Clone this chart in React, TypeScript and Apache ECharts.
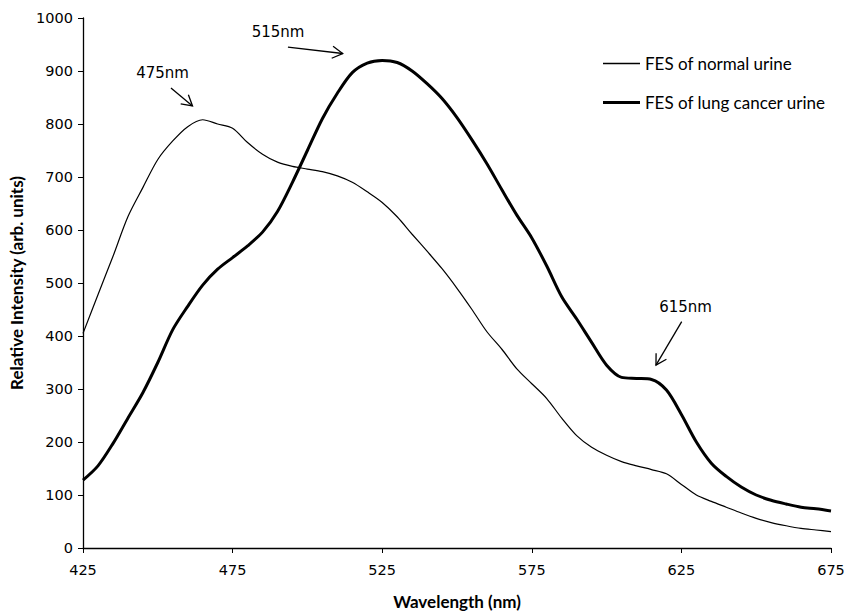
import React, { useEffect, useRef } from "react";
import * as echarts from "echarts";

const wavelengths = [
  425, 430, 435, 440, 445, 450, 455, 460, 465, 470, 475, 480, 485, 490, 495, 500,
  505, 510, 515, 520, 525, 530, 535, 540, 545, 550, 555, 560, 565, 570, 575, 580,
  585, 590, 595, 600, 605, 610, 615, 620, 625, 630, 635, 640, 645, 650, 655, 660,
  665, 670, 675,
];

const normalUrine = [
  405, 478, 550, 625, 680, 733, 768, 795, 808, 800, 792, 765, 743, 728, 720, 715,
  710, 702, 690, 672, 652, 625, 592, 560, 527, 490, 450, 408, 375, 338, 310, 282,
  245, 212, 190, 175, 163, 155, 148, 140, 120, 100, 88, 77, 66, 56, 48, 42,
  37, 34, 31,
];

const cancerUrine = [
  128, 155, 197, 245, 293, 350, 412, 456, 496, 526, 548, 570, 596, 635, 690, 750,
  810, 858, 897, 915, 920, 916, 900, 876, 848, 812, 770, 725, 676, 628, 585, 532,
  474, 432, 388, 345, 322, 320, 318, 298, 252, 200, 160, 135, 115, 100, 90, 83,
  77, 74, 70,
];

const xTicks = [425, 475, 525, 575, 625, 675];
const seriesNames = ["FES of normal urine", "FES of lung cancer urine"];

// annotations (data coordinates)
const annoLabels = ["475nm", "515nm", "615nm"];
const annoTextX = [451.6, 490.2, 626.4];
const annoTextY = [896, 974, 455];
const arrowFromX = [454.4, 493.5, 625.1];
const arrowFromY = [868, 945, 427];
const arrowToX = [461.6, 511.8, 616.5];
const arrowToY = [834, 933, 345];

const TICK_FONT = "DejaVu Sans";
const TEXT_FONT = "Lato";

export default function App() {
  const ref = useRef<HTMLDivElement>(null);

  useEffect(() => {
    if (!ref.current) return;
    const chart = echarts.init(ref.current, undefined, { renderer: "svg" });

    const annoData = annoLabels.map((_, i) => [
      annoTextX[i], annoTextY[i], arrowFromX[i], arrowFromY[i], arrowToX[i], arrowToY[i],
    ]);

    const option: any = {
      animation: false,
      backgroundColor: "#ffffff",
      grid: { left: 83, right: 13, top: 18, bottom: 67, containLabel: false, outerBoundsMode: "none" },
      legend: {
        data: [
          { name: seriesNames[0], icon: "path://M0,0L37,0L37,1.3L0,1.3Z" },
          { name: seriesNames[1], icon: "path://M0,0L37,0L37,3L0,3Z" },
        ],
        orient: "vertical",
        left: 598,
        top: 50,
        itemWidth: 37,
        itemHeight: 14,
        itemGap: 22,
        itemStyle: { color: "#000" },
        textStyle: { fontFamily: TEXT_FONT, fontSize: 17, color: "#000", padding: [0, 0, 0, 0] },
      },
      xAxis: {
        type: "value",
        min: 425,
        max: 675,
        interval: 50,
        name: "Wavelength (nm)",
        nameLocation: "middle",
        nameGap: 45,
        nameTextStyle: { fontFamily: TEXT_FONT, fontSize: 17, fontWeight: "bold", color: "#000" },
        axisLine: { lineStyle: { color: "#000", width: 1.3 } },
        axisTick: { show: true, length: 5, lineStyle: { color: "#000", width: 1 } },
        axisLabel: {
          fontFamily: TICK_FONT, fontSize: 14.5, color: "#000", margin: 14,
          customValues: xTicks,
        },
        splitLine: { show: false },
      },
      yAxis: {
        type: "value",
        min: 0,
        max: 1000,
        interval: 100,
        name: "Relative Intensity (arb. units)",
        nameLocation: "middle",
        nameGap: 56,
        nameTextStyle: { fontFamily: TEXT_FONT, fontSize: 17, fontWeight: "bold", color: "#000" },
        axisLine: { show: true, lineStyle: { color: "#000", width: 1.3 } },
        axisTick: { show: true, length: 5, lineStyle: { color: "#000", width: 1 } },
        axisLabel: {
          fontFamily: TICK_FONT, fontSize: 14.5, color: "#000", margin: 10,
          formatter: (v: number) => String(v),
        },
        splitLine: { show: false },
      },
      series: [
        {
          name: seriesNames[0],
          type: "line",
          data: wavelengths.map((w, i) => [w, normalUrine[i]]),
          showSymbol: false,
          symbol: "none",
          smooth: 0.3,
          lineStyle: { color: "#000", width: 1.2 },
          itemStyle: { color: "#000" },
        },
        {
          name: seriesNames[1],
          type: "line",
          data: wavelengths.map((w, i) => [w, cancerUrine[i]]),
          showSymbol: false,
          symbol: "none",
          smooth: 0.3,
          lineStyle: { color: "#000", width: 3 },
          itemStyle: { color: "#000" },
        },
        {
          type: "custom",
          silent: true,
          z: 10,
          data: annoData,
          encode: { x: [0, 2, 4], y: [1, 3, 5] },
          renderItem: (params: any, api: any) => {
            const i = params.dataIndex;
            const t = api.coord([api.value(0), api.value(1)]);
            const f = api.coord([api.value(2), api.value(3)]);
            const a = api.coord([api.value(4), api.value(5)]);
            const dx = a[0] - f[0];
            const dy = a[1] - f[1];
            const len = Math.sqrt(dx * dx + dy * dy) || 1;
            const ux = -dx / len;
            const uy = -dy / len;
            const hl = 12;
            const ang = Math.PI / 6;
            const rot = (s: number) => [
              a[0] + hl * (ux * Math.cos(s) - uy * Math.sin(s)),
              a[1] + hl * (ux * Math.sin(s) + uy * Math.cos(s)),
            ];
            return {
              type: "group",
              children: [
                {
                  type: "line",
                  shape: { x1: f[0], y1: f[1], x2: a[0], y2: a[1] },
                  style: { stroke: "#000", lineWidth: 1.3 },
                },
                {
                  type: "polyline",
                  shape: { points: [rot(ang), a, rot(-ang)] },
                  style: { stroke: "#000", lineWidth: 1.3, fill: null },
                },
                {
                  type: "text",
                  style: {
                    text: annoLabels[i],
                    x: t[0],
                    y: t[1],
                    align: "center",
                    verticalAlign: "middle",
                    fontFamily: TICK_FONT,
                    fontSize: 15,
                    fill: "#000",
                  },
                },
              ],
            };
          },
        },
      ],
    };

    chart.setOption(option);
    return () => chart.dispose();
  }, []);

  return (
    <div
      ref={ref}
      style={{ position: "absolute", left: 0, top: 0, width: 844, height: 615, background: "#fff" }}
    />
  );
}
